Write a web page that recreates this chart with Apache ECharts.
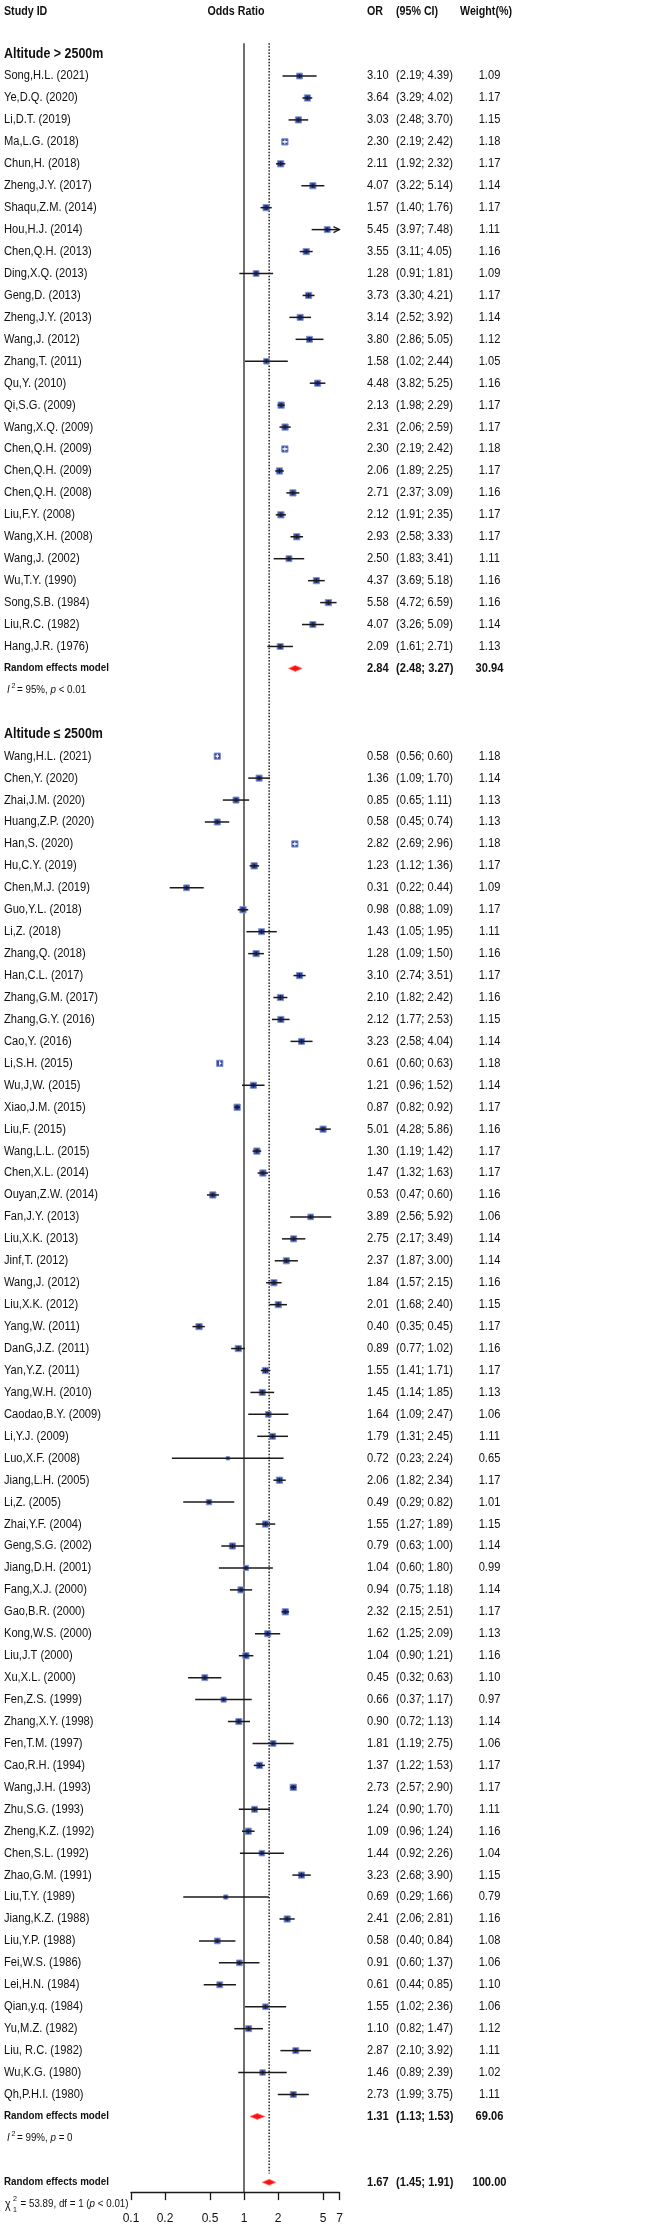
<!DOCTYPE html>
<html><head><meta charset="utf-8">
<script src="https://cdn.jsdelivr.net/npm/echarts@6/dist/echarts.min.js"></script>
<style>html,body{margin:0;padding:0;background:#fff}#c{width:650px;height:2228px}</style>
</head><body><div id="c"></div>
<script>
// ---------------- DATA ----------------
const groupTitles = ['Altitude > 2500m', 'Altitude \u2264 2500m'];

const g1Names = ['Song,H.L. (2021)','Ye,D.Q. (2020)','Li,D.T. (2019)','Ma,L.G. (2018)','Chun,H. (2018)','Zheng,J.Y. (2017)','Shaqu,Z.M. (2014)','Hou,H.J. (2014)','Chen,Q.H. (2013)','Ding,X.Q. (2013)','Geng,D. (2013)','Zheng,J.Y. (2013)','Wang,J. (2012)','Zhang,T. (2011)','Qu,Y. (2010)','Qi,S.G. (2009)','Wang,X.Q. (2009)','Chen,Q.H. (2009)','Chen,Q.H. (2009)','Chen,Q.H. (2008)','Liu,F.Y. (2008)','Wang,X.H. (2008)','Wang,J. (2002)','Wu,T.Y. (1990)','Song,S.B. (1984)','Liu,R.C. (1982)','Hang,J.R. (1976)'];
const g1OR = [3.10,3.64,3.03,2.30,2.11,4.07,1.57,5.45,3.55,1.28,3.73,3.14,3.80,1.58,4.48,2.13,2.31,2.30,2.06,2.71,2.12,2.93,2.50,4.37,5.58,4.07,2.09];
const g1Lo = [2.19,3.29,2.48,2.19,1.92,3.22,1.40,3.97,3.11,0.91,3.30,2.52,2.86,1.02,3.82,1.98,2.06,2.19,1.89,2.37,1.91,2.58,1.83,3.69,4.72,3.26,1.61];
const g1Hi = [4.39,4.02,3.70,2.42,2.32,5.14,1.76,7.48,4.05,1.81,4.21,3.92,5.05,2.44,5.25,2.29,2.59,2.42,2.25,3.09,2.35,3.33,3.41,5.18,6.59,5.09,2.71];
const g1W  = [1.09,1.17,1.15,1.18,1.17,1.14,1.17,1.11,1.16,1.09,1.17,1.14,1.12,1.05,1.16,1.17,1.17,1.18,1.17,1.16,1.17,1.17,1.11,1.16,1.16,1.14,1.13];

const g2Names = ['Wang,H.L. (2021)','Chen,Y. (2020)','Zhai,J.M. (2020)','Huang,Z.P. (2020)','Han,S. (2020)','Hu,C.Y. (2019)','Chen,M.J. (2019)','Guo,Y.L. (2018)','Li,Z. (2018)','Zhang,Q. (2018)','Han,C.L. (2017)','Zhang,G.M. (2017)','Zhang,G.Y. (2016)','Cao,Y. (2016)','Li,S.H. (2015)','Wu,J,W. (2015)','Xiao,J.M. (2015)','Liu,F. (2015)','Wang,L.L. (2015)','Chen,X.L. (2014)','Ouyan,Z.W. (2014)','Fan,J.Y. (2013)','Liu,X.K. (2013)','Jinf,T. (2012)','Wang,J. (2012)','Liu,X.K. (2012)','Yang,W. (2011)','DanG,J.Z. (2011)','Yan,Y.Z. (2011)','Yang,W.H. (2010)','Caodao,B.Y. (2009)','Li,Y.J. (2009)','Luo,X.F. (2008)','Jiang,L.H. (2005)','Li,Z. (2005)','Zhai,Y.F. (2004)','Geng,S.G. (2002)','Jiang,D.H. (2001)','Fang,X.J. (2000)','Gao,B.R. (2000)','Kong,W.S. (2000)','Liu,J.T (2000)','Xu,X.L. (2000)','Fen,Z.S. (1999)','Zhang,X.Y. (1998)','Fen,T.M. (1997)','Cao,R.H. (1994)','Wang,J.H. (1993)','Zhu,S.G. (1993)','Zheng,K.Z. (1992)','Chen,S.L. (1992)','Zhao,G.M. (1991)','Liu,T.Y. (1989)','Jiang,K.Z. (1988)','Liu,Y.P. (1988)','Fei,W.S. (1986)','Lei,H.N. (1984)','Qian,y.q. (1984)','Yu,M.Z. (1982)','Liu, R.C. (1982)','Wu,K.G. (1980)','Qh,P.H.I. (1980)'];
const g2OR = [0.58,1.36,0.85,0.58,2.82,1.23,0.31,0.98,1.43,1.28,3.10,2.10,2.12,3.23,0.61,1.21,0.87,5.01,1.30,1.47,0.53,3.89,2.75,2.37,1.84,2.01,0.40,0.89,1.55,1.45,1.64,1.79,0.72,2.06,0.49,1.55,0.79,1.04,0.94,2.32,1.62,1.04,0.45,0.66,0.90,1.81,1.37,2.73,1.24,1.09,1.44,3.23,0.69,2.41,0.58,0.91,0.61,1.55,1.10,2.87,1.46,2.73];
const g2Lo = [0.56,1.09,0.65,0.45,2.69,1.12,0.22,0.88,1.05,1.09,2.74,1.82,1.77,2.58,0.60,0.96,0.82,4.28,1.19,1.32,0.47,2.56,2.17,1.87,1.57,1.68,0.35,0.77,1.41,1.14,1.09,1.31,0.23,1.82,0.29,1.27,0.63,0.60,0.75,2.15,1.25,0.90,0.32,0.37,0.72,1.19,1.22,2.57,0.90,0.96,0.92,2.68,0.29,2.06,0.40,0.60,0.44,1.02,0.82,2.10,0.89,1.99];
const g2Hi = [0.60,1.70,1.11,0.74,2.96,1.36,0.44,1.09,1.95,1.50,3.51,2.42,2.53,4.04,0.63,1.52,0.92,5.86,1.42,1.63,0.60,5.92,3.49,3.00,2.15,2.40,0.45,1.02,1.71,1.85,2.47,2.45,2.24,2.34,0.82,1.89,1.00,1.80,1.18,2.51,2.09,1.21,0.63,1.17,1.13,2.75,1.53,2.90,1.70,1.24,2.26,3.90,1.66,2.81,0.84,1.37,0.85,2.36,1.47,3.92,2.39,3.75];
const g2W  = [1.18,1.14,1.13,1.13,1.18,1.17,1.09,1.17,1.11,1.16,1.17,1.16,1.15,1.14,1.18,1.14,1.17,1.16,1.17,1.17,1.16,1.06,1.14,1.14,1.16,1.15,1.17,1.16,1.17,1.13,1.06,1.11,0.65,1.17,1.01,1.15,1.14,0.99,1.14,1.17,1.13,1.16,1.10,0.97,1.14,1.06,1.17,1.17,1.11,1.16,1.04,1.15,0.79,1.16,1.08,1.06,1.10,1.06,1.12,1.11,1.02,1.11];

const summaryLabel = 'Random effects model';
const g1Summary = [2.84, 2.48, 3.27, 30.94];
const g2Summary = [1.31, 1.13, 1.53, 69.06];
const overallSummary = [1.67, 1.45, 1.91, 100.00];
const g1Het = ['95%', '< 0.01'];
const g2Het = ['99%', '= 0'];
const overallTest = ['53.89', '1', '< 0.01'];
const tickValues = [0.1, 0.2, 0.5, 1, 2, 5, 7];

// ---------------- LAYOUT / STYLE ----------------
const XMIN = 0.1, XMAX = 7;
const FONT = '"Liberation Sans", Arial, Helvetica, sans-serif';
const SX = 0.89;
const TXT = '#111';
const SQ_DRAW = 6.3, SQ_BOX = 5.4, WMAX = 1.18;
const SQFILL = '#33479b', SQEDGE = '#8594d2';

const rows = [];
let r = 0;
function addGroup(title, names, or, lo, hi, w, summ, het) {
  rows.push({row: r++, type: 'group', text: title});
  names.forEach((n, i) => rows.push({row: r++, type: 'study', name: n, or: or[i], lo: lo[i], hi: hi[i], w: w[i]}));
  rows.push({row: r++, type: 'summary', est: summ[0], lo: summ[1], hi: summ[2], w: summ[3]});
  rows.push({row: r++, type: 'het', I2: het[0], p: het[1]});
  r++;
}
addGroup(groupTitles[0], g1Names, g1OR, g1Lo, g1Hi, g1W, g1Summary, g1Het);
addGroup(groupTitles[1], g2Names, g2OR, g2Lo, g2Hi, g2W, g2Summary, g2Het);
rows.push({row: r++, type: 'summary', est: overallSummary[0], lo: overallSummary[1], hi: overallSummary[2], w: overallSummary[3]});
rows.push({row: r, type: 'test', chi2: overallTest[0], df: overallTest[1], p: overallTest[2]});
const overallRow = r - 1;

const studyData = rows.filter(d => d.type === 'study').map(d => [d.or, d.row, d.lo, d.hi, d.w]);
const diamondData = rows.filter(d => d.type === 'summary').map(d => [d.est, d.row, d.lo, d.hi]);
const f2 = v => v.toFixed(2);

function T(x, y, text, st) {
  return {type: 'text', x: x, y: y, scaleX: SX,
    style: Object.assign({text: text, x: 0, y: 0, fill: TXT, fontFamily: FONT, fontSize: 12.5, align: 'left', verticalAlign: 'middle'}, st || {})};
}
const richStyle = {
  n: {fill: TXT, fontFamily: FONT, fontSize: 11},
  it: {fill: TXT, fontFamily: FONT, fontSize: 11, fontStyle: 'italic'}
};

function renderStudy(params, api) {
  const or = api.value(0), row = api.value(1), lo = api.value(2), hi = api.value(3), w = api.value(4);
  const p = api.coord([or, row]);
  const pl = api.coord([lo, row]);
  const arrow = hi > XMAX;
  const ph = api.coord([Math.min(hi, XMAX), row]);
  const s = SQ_DRAW * w / WMAX;
  const box = SQ_BOX * w / WMAX;
  const inside = (ph[0] - pl[0]) < box;
  const lc = inside ? '#ffffff' : '#1a1a1a';
  const ch = [
    {type: 'rect', shape: {x: p[0] - s / 2, y: p[1] - s / 2, width: s, height: s}, style: {fill: SQFILL, stroke: SQEDGE, lineWidth: 1}},
    {type: 'line', shape: {x1: pl[0], y1: p[1], x2: ph[0], y2: p[1]}, style: {stroke: lc, lineWidth: 1.5}},
    {type: 'line', shape: {x1: p[0], y1: p[1] - s / 2 + 0.8, x2: p[0], y2: p[1] + s / 2 - 0.8}, style: {stroke: lc, lineWidth: 1}}
  ];
  if (arrow) ch.push({type: 'polyline', shape: {points: [[ph[0] - 6, p[1] - 3], [ph[0], p[1]], [ph[0] - 6, p[1] + 3]]}, style: {stroke: '#1a1a1a', fill: null, lineWidth: 1.2}});
  return {type: 'group', children: ch};
}

function renderDiamond(params, api) {
  const est = api.value(0), row = api.value(1), lo = api.value(2), hi = api.value(3);
  const p = api.coord([est, row]), pl = api.coord([lo, row]), ph = api.coord([hi, row]);
  return {type: 'polygon', shape: {points: [[pl[0], p[1]], [p[0], p[1] - 3], [ph[0], p[1]], [p[0], p[1] + 3]]},
    style: {fill: '#ff1010', stroke: '#ff7a7a', lineWidth: 0.8}};
}

function renderText(params, api) {
  const it = rows[params.dataIndex];
  const y = api.coord([1, it.row])[1];
  const ch = [];
  if (it.type === 'group') {
    ch.push(T(4, y, it.text, {fontSize: 14, fontWeight: 'bold'}));
  } else if (it.type === 'study') {
    ch.push(T(4, y, it.name));
    ch.push(T(367, y, f2(it.or)));
    ch.push(T(396, y, '(' + f2(it.lo) + '; ' + f2(it.hi) + ')'));
    ch.push(T(489.5, y, f2(it.w), {align: 'center'}));
  } else if (it.type === 'summary') {
    ch.push(T(4, y, summaryLabel, {fontSize: 11, fontWeight: 'bold'}));
    ch.push(T(367, y, f2(it.est), {fontWeight: 'bold'}));
    ch.push(T(396, y, '(' + f2(it.lo) + '; ' + f2(it.hi) + ')', {fontWeight: 'bold'}));
    ch.push(T(489.5, y, f2(it.w), {fontWeight: 'bold', align: 'center'}));
  } else if (it.type === 'het') {
    ch.push(T(7, y, 'I', {fontSize: 11, fontStyle: 'italic'}));
    ch.push(T(11.5, y - 5, '2', {fontSize: 8}));
    ch.push(T(17, y, '{n|= ' + it.I2 + ', }{it|p}{n| ' + it.p + '}', {rich: richStyle}));
  } else if (it.type === 'test') {
    ch.push(T(5, y, '\u03c7', {fontSize: 12}));
    ch.push(T(13, y - 5.5, '2', {fontSize: 8}));
    ch.push(T(13, y + 5.5, it.df, {fontSize: 8}));
    ch.push(T(20.5, y, '{n|= ' + it.chi2 + ', df = ' + it.df + ' (}{it|p}{n| ' + it.p + ')}', {rich: richStyle}));
  }
  return {type: 'group', children: ch};
}

function tickFmt(v) {
  let best = tickValues[0];
  tickValues.forEach(t => { if (Math.abs(Math.log10(t) - Math.log10(v)) < Math.abs(Math.log10(best) - Math.log10(v))) best = t; });
  return String(best);
}

const chart = echarts.init(document.getElementById('c'));
chart.setOption({
  animation: false,
  backgroundColor: '#fff',
  grid: {left: 131, right: 310.5, top: 43.13, bottom: 35.87, containLabel: false},
  xAxis: {
    type: 'log', logBase: 10, min: XMIN, max: XMAX, position: 'bottom',
    splitLine: {show: false}, minorTick: {show: false},
    axisLine: {show: true, onZero: false, lineStyle: {color: '#1a1a1a', width: 1.3}},
    axisTick: {show: true, inside: false, length: 8, customValues: tickValues, lineStyle: {color: '#1a1a1a', width: 1.3}},
    axisLabel: {show: true, customValues: tickValues, margin: 21, fontSize: 12, fontFamily: FONT, color: TXT, formatter: tickFmt, hideOverlap: false, showMinLabel: true, showMaxLabel: true}
  },
  yAxis: {type: 'value', inverse: true, min: -0.5, max: 97.45, show: false},
  graphic: [
    T(4, 12, 'Study ID', {fontSize: 12, fontWeight: 'bold'}),
    T(236, 12, 'Odds Ratio', {fontSize: 12, fontWeight: 'bold', align: 'center'}),
    T(367, 12, 'OR', {fontSize: 12, fontWeight: 'bold'}),
    T(396, 12, '(95% CI)', {fontSize: 12, fontWeight: 'bold'}),
    T(460, 12, 'Weight(%)', {fontSize: 12, fontWeight: 'bold'})
  ],
  series: [
    {type: 'line', data: [[1, -0.5], [1, 97.45]], symbol: 'none', silent: true, clip: false, z: 1,
      lineStyle: {color: '#222', width: 1.3}},
    {type: 'line', data: [[overallSummary[0], -0.5], [overallSummary[0], overallRow - 0.4]], symbol: 'none', silent: true, clip: false, z: 1,
      lineStyle: {color: '#222', width: 1.5, type: [1.5, 1.6]}},
    {type: 'custom', data: studyData, encode: {x: 0, y: 1}, renderItem: renderStudy, clip: false, z: 3, silent: true},
    {type: 'custom', data: diamondData, encode: {x: 0, y: 1}, renderItem: renderDiamond, clip: false, z: 3, silent: true},
    {type: 'custom', data: rows.map(d => [1, d.row]), encode: {x: 0, y: 1}, renderItem: renderText, clip: false, z: 4, silent: true}
  ]
});
</script>
</body></html>
